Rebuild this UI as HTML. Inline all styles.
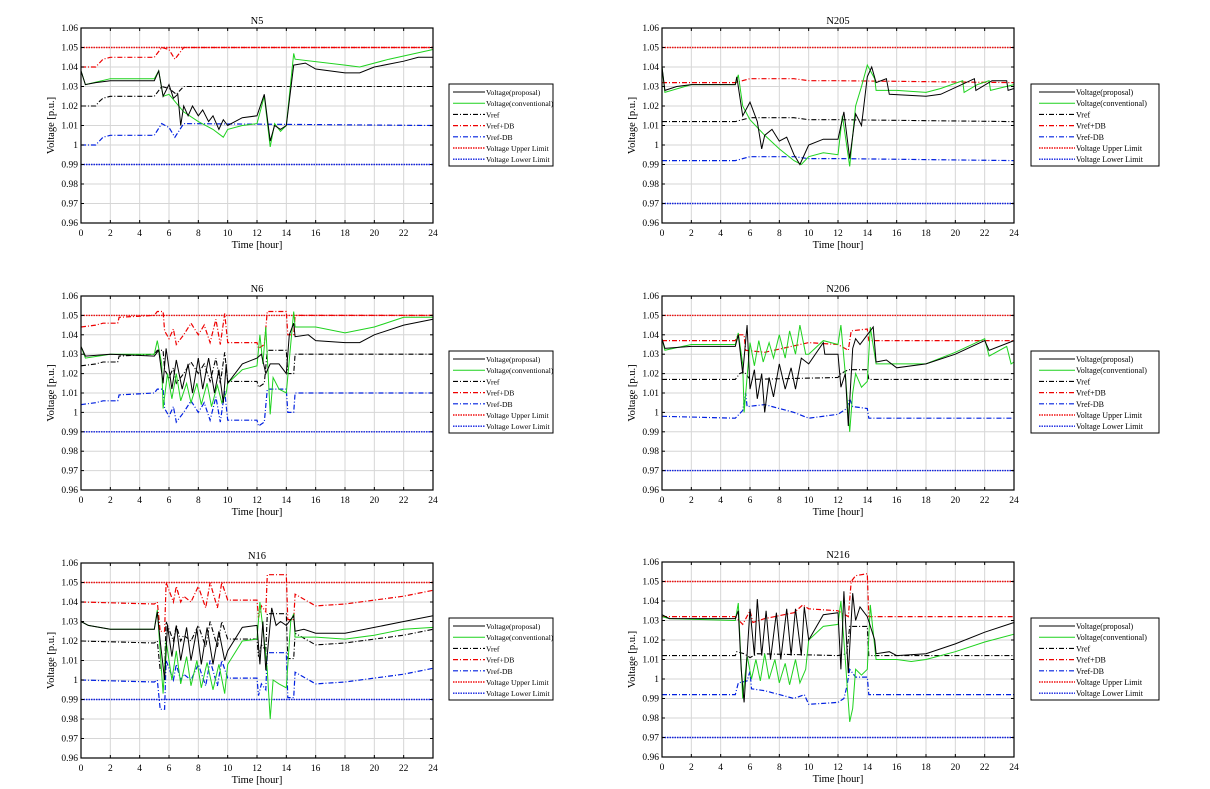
<!DOCTYPE html>
<html><head><meta charset="utf-8"><style>
html,body{margin:0;padding:0;background:#fff;}
svg{display:block;font-family:"Liberation Serif",serif;}
</style></head><body>
<svg id="s" width="1210" height="789" viewBox="0 0 1210 789" xmlns="http://www.w3.org/2000/svg"></svg>
<script>
const S=document.getElementById('s');let h='';
function add(x){h+=x;}
const charts=[
{t:'N5',x0:81,x1:433,y0:28,y1:223,lx:449,lw:104,ly:84,lov:0.99,
 vref:[[0,1.02],[1,1.02],[1.2,1.022],[1.5,1.024],[2,1.025],[5,1.025],[5.2,1.027],[5.5,1.03],[6,1.029],[6.5,1.026],[7,1.03],[24,1.03]],
 vp:[[0,1.04],[1,1.04],[1.5,1.044],[2,1.045],[5,1.045],[5.5,1.05],[6,1.049],[6.4,1.044],[7,1.05],[24,1.05]],
 vm:[[0,1.0],[1,1.0],[1.5,1.004],[2,1.005],[5,1.005],[5.5,1.011],[6,1.009],[6.4,1.004],[7,1.011],[24,1.01]],
 p:[[0,1.038],[0.3,1.031],[1,1.032],[2,1.033],[5,1.033],[5.3,1.038],[5.6,1.025],[6,1.031],[6.3,1.024],[6.6,1.026],[6.8,1.01],[7,1.02],[7.3,1.015],[7.6,1.02],[8,1.015],[8.3,1.018],[8.7,1.012],[9,1.015],[9.4,1.008],[9.7,1.013],[10,1.01],[11,1.014],[12,1.015],[12.5,1.026],[12.9,1.002],[13.2,1.01],[13.6,1.008],[14,1.01],[14.5,1.041],[15.3,1.042],[16,1.039],[18,1.037],[19,1.037],[20,1.04],[22,1.043],[23,1.045],[24,1.045]],
 c:[[0,1.038],[0.3,1.031],[2,1.034],[5,1.034],[5.3,1.038],[5.6,1.025],[6,1.026],[7,1.017],[8,1.012],[9,1.008],[9.7,1.004],[10,1.008],[11,1.01],[12,1.011],[12.5,1.025],[12.9,0.999],[13.2,1.011],[13.6,1.007],[14,1.01],[14.5,1.047],[14.6,1.044],[18,1.041],[19,1.04],[21,1.044],[24,1.049]]},
{t:'N205',x0:662,x1:1014,y0:28,y1:223,lx:1031,lw:128,ly:84,lov:0.97,
 vref:[[0,1.012],[5,1.012],[6,1.014],[9,1.014],[10,1.013],[12,1.013],[24,1.012]],
 vp:[[0,1.032],[5,1.032],[6,1.034],[9,1.034],[10,1.033],[12,1.033],[24,1.032]],
 vm:[[0,0.992],[5,0.992],[6,0.994],[9,0.994],[10,0.993],[12,0.993],[24,0.992]],
 p:[[0,1.04],[0.2,1.028],[1,1.03],[2,1.031],[5,1.031],[5.1,1.035],[5.5,1.015],[6,1.022],[6.5,1.012],[6.8,0.998],[7,1.005],[7.5,1.008],[8,1.002],[8.5,1.004],[9,0.995],[9.4,0.99],[10,1],[11,1.003],[12,1.003],[12.4,1.017],[12.8,0.993],[13.2,1.016],[13.6,1.01],[14,1.035],[14.3,1.04],[14.6,1.032],[15.3,1.034],[15.5,1.026],[18,1.025],[19,1.026],[21.3,1.034],[21.4,1.028],[22.5,1.033],[23.5,1.033],[23.6,1.028],[24,1.029]],
 c:[[0,1.04],[0.2,1.027],[2,1.031],[5,1.031],[5.2,1.036],[5.5,1.02],[6,1.013],[7,1.005],[8,0.998],[9,0.992],[9.5,0.99],[10,0.994],[11,0.996],[12,0.995],[12.3,1.015],[12.8,0.989],[13.2,1.02],[13.6,1.03],[14,1.041],[14.5,1.034],[14.6,1.028],[16,1.028],[18,1.027],[19,1.029],[20.5,1.033],[20.6,1.027],[21.5,1.031],[22.3,1.033],[22.4,1.028],[24,1.031]]},
{t:'N6',x0:81,x1:433,y0:296,y1:490,lx:449,lw:104,ly:351,lov:0.99,d:0.02,
 vref:[[0,1.024],[1,1.025],[1.5,1.026],[2.5,1.026],[2.6,1.029],[5,1.03],[5.2,1.032],[5.6,1.032],[5.7,1.022],[6,1.018],[6.3,1.023],[6.5,1.015],[7,1.02],[7.5,1.026],[8,1.02],[8.4,1.025],[8.8,1.016],[9.2,1.028],[9.5,1.015],[9.8,1.031],[10,1.016],[12,1.016],[12.1,1.013],[12.5,1.015],[12.7,1.032],[14,1.032],[14.1,1.02],[14.5,1.02],[14.6,1.03],[24,1.03]],
 p:[[0,1.034],[0.3,1.029],[2,1.03],[5,1.029],[5.3,1.032],[5.6,1.015],[5.8,1.033],[6.2,1.012],[6.5,1.027],[6.9,1.012],[7.3,1.025],[7.6,1.01],[8,1.028],[8.3,1.012],[8.7,1.028],[9.1,1.01],[9.4,1.022],[9.7,1.005],[9.9,1.025],[10,1.015],[11,1.025],[12,1.028],[12.3,1.03],[12.6,1.02],[12.9,1.025],[13.5,1.025],[14,1.02],[14.2,1.04],[14.5,1.046],[14.6,1.039],[15.5,1.04],[16,1.037],[18,1.036],[19,1.036],[20,1.04],[22,1.045],[24,1.048]],
 c:[[0,1.034],[0.3,1.028],[2,1.03],[5,1.03],[5.2,1.037],[5.5,1.025],[5.6,1.002],[5.9,1.02],[6.2,1.007],[6.5,1.02],[6.8,1.006],[7.2,1.015],[7.5,1.005],[7.9,1.015],[8.2,1.004],[8.6,1.015],[8.9,1.003],[9.3,1.014],[9.6,1.005],[9.9,1.01],[10,1.015],[11,1.022],[12,1.024],[12.2,1.04],[12.4,1.025],[12.6,1.044],[12.9,0.999],[13.1,1.018],[13.5,1.012],[14,1.01],[14.5,1.052],[14.6,1.044],[16,1.044],[18,1.041],[20,1.044],[22,1.049],[24,1.049]]},
{t:'N206',x0:662,x1:1014,y0:296,y1:490,lx:1031,lw:128,ly:351,lov:0.97,
 vref:[[0,1.017],[5,1.017],[5.3,1.02],[5.6,1.021],[6,1.017],[12,1.018],[12.2,1.02],[12.7,1.022],[14,1.022],[14.1,1.017],[24,1.017]],
 vp:[[0,1.037],[5,1.037],[5.2,1.04],[5.6,1.04],[5.7,1.032],[7,1.031],[10,1.036],[12,1.035],[12.7,1.032],[12.9,1.042],[14,1.043],[14.1,1.037],[24,1.037]],
 vm:[[0,0.998],[5,0.997],[5.5,1.001],[5.7,1.01],[5.8,1.003],[7,1.004],[8,1.002],[9,1.0],[10,0.997],[12,0.999],[12.6,1.002],[12.8,1.007],[13,1.003],[14,1.002],[14.1,0.997],[24,0.997]],
 p:[[0,1.038],[0.2,1.033],[2,1.034],[5,1.034],[5.2,1.04],[5.5,1.02],[5.8,1.045],[6,1.012],[6.3,1.022],[6.5,1.007],[6.8,1.02],[7,1.0],[7.3,1.018],[7.6,1.008],[8,1.025],[8.4,1.012],[8.8,1.023],[9.1,1.012],[9.5,1.028],[10,1.025],[11,1.036],[11.1,1.03],[12,1.03],[12.2,1.013],[12.5,1.02],[12.7,0.993],[13,1.033],[13.2,1.038],[13.5,1.035],[14,1.04],[14.4,1.044],[14.6,1.026],[15.3,1.027],[16,1.023],[18,1.025],[20,1.03],[22,1.037],[22.3,1.032],[24,1.037]],
 c:[[0,1.038],[0.2,1.032],[2,1.035],[5,1.035],[5.2,1.041],[5.5,1.025],[5.6,1.0],[6,1.036],[6.3,1.024],[6.6,1.037],[6.9,1.026],[7.3,1.036],[7.6,1.028],[8,1.04],[8.4,1.028],[8.7,1.042],[9.1,1.03],[9.4,1.045],[9.8,1.03],[10,1.03],[11,1.037],[12,1.035],[12.2,1.045],[12.5,1.02],[12.8,0.99],[13,1.01],[13.2,1.02],[13.6,1.013],[14,1.016],[14.2,1.044],[14.6,1.025],[16,1.025],[18,1.025],[20,1.031],[22,1.038],[22.3,1.029],[23.5,1.034],[23.8,1.025],[24,1.026]]},
{t:'N16',x0:81,x1:433,y0:563,y1:758,lx:449,lw:104,ly:618,lov:0.99,d:0.02,
 vref:[[0,1.02],[5,1.019],[5.2,1.02],[5.4,1.005],[5.7,1.005],[5.8,1.03],[6.3,1.02],[6.5,1.028],[6.8,1.02],[7,1.023],[7.5,1.02],[8,1.028],[8.5,1.017],[8.8,1.03],[9.3,1.017],[9.6,1.03],[10,1.021],[12,1.021],[12.1,1.012],[12.3,1.018],[12.6,1.015],[12.7,1.034],[14,1.034],[14.1,1.011],[14.5,1.011],[14.6,1.024],[16,1.018],[18,1.019],[20,1.021],[22,1.023],[24,1.026]],
 p:[[0,1.03],[0.5,1.028],[2,1.026],[5,1.026],[5.2,1.035],[5.4,1.02],[5.7,1.0],[5.9,1.028],[6.2,1.012],[6.5,1.028],[6.8,1.01],[7.2,1.027],[7.5,1.01],[7.9,1.026],[8.2,1.008],[8.6,1.027],[9,1.008],[9.4,1.025],[9.8,1.01],[10,1.015],[11,1.027],[12,1.028],[12.2,1.008],[12.4,1.03],[12.6,1.005],[13,1.037],[13.3,1.028],[13.6,1.03],[14,1.028],[14.5,1.033],[14.6,1.025],[15.2,1.026],[16,1.024],[18,1.024],[20,1.027],[22,1.03],[24,1.033]],
 c:[[0,1.03],[0.5,1.028],[2,1.026],[5,1.026],[5.2,1.036],[5.6,0.993],[5.8,1.02],[6.2,1.0],[6.5,1.015],[6.8,0.998],[7.2,1.012],[7.5,0.997],[7.9,1.01],[8.2,0.996],[8.6,1.009],[9,0.995],[9.4,1.008],[9.8,0.993],[10,1.008],[11,1.02],[12,1.021],[12.2,1.04],[12.5,1.02],[12.7,1.005],[12.9,0.98],[13.1,1.0],[13.5,0.998],[14,0.996],[14.3,1.03],[14.5,1.034],[14.6,1.022],[16,1.022],[18,1.021],[20,1.023],[22,1.026],[24,1.027]]},
{t:'N216',x0:662,x1:1014,y0:562,y1:757,lx:1031,lw:128,ly:618,lov:0.97,
 vref:[[0,1.012],[5,1.012],[5.1,1.014],[5.6,1.013],[6,1.011],[6.5,1.013],[12,1.012],[12.6,1.013],[12.8,1.027],[14,1.027],[14.1,1.012],[24,1.012]],
 vp:[[0,1.032],[5,1.032],[5.5,1.028],[6,1.035],[6.2,1.029],[7,1.031],[9,1.034],[9.6,1.038],[10,1.036],[12,1.035],[12.7,1.032],[12.9,1.05],[13.2,1.053],[14,1.054],[14.1,1.032],[24,1.032]],
 vm:[[0,0.992],[5,0.992],[5.2,0.998],[5.8,0.999],[6,1.004],[6.1,0.995],[7,0.994],[8,0.992],[9,0.99],[9.7,0.992],[10,0.987],[12,0.988],[12.4,0.99],[12.6,0.996],[12.8,1.005],[13.2,1.001],[14,1.001],[14.1,0.992],[24,0.992]],
 p:[[0,1.033],[0.5,1.031],[5,1.031],[5.2,1.035],[5.4,1.005],[5.6,0.988],[6,1.036],[6.3,1.012],[6.5,1.041],[6.8,1.012],[7.1,1.035],[7.4,1.01],[7.8,1.034],[8.1,1.01],[8.5,1.036],[8.8,1.012],[9.1,1.036],[9.5,1.012],[9.7,1.037],[10,1.02],[11,1.033],[12,1.034],[12.2,1.005],[12.4,1.045],[12.7,1.003],[13,1.044],[13.2,1.03],[13.5,1.037],[14,1.032],[14.5,1.02],[14.6,1.013],[15.5,1.014],[16,1.012],[18,1.013],[20,1.018],[22,1.024],[24,1.029]],
 c:[[0,1.032],[0.5,1.031],[5,1.03],[5.2,1.039],[5.5,0.99],[5.8,1.012],[6.1,1.0],[6.4,1.01],[6.7,0.999],[7,1.013],[7.3,1.0],[7.7,1.01],[8,0.998],[8.4,1.008],[8.7,0.997],[9.1,1.01],[9.4,0.998],[9.8,1.005],[10,1.02],[11,1.027],[12,1.028],[12.2,1.04],[12.5,1.01],[12.8,0.978],[13,0.985],[13.2,1.005],[13.6,1.002],[14,1.005],[14.2,1.038],[14.6,1.01],[16,1.01],[17,1.009],[18,1.01],[20,1.014],[22,1.019],[24,1.023]]}
];
const st={
 p:'stroke="#000" stroke-width="1"',
 c:'stroke="#1fd21f" stroke-width="1"',
 vref:'stroke="#000" stroke-width="1.1" stroke-dasharray="5,2,1,2"',
 vp:'stroke="#e00" stroke-width="1.2" stroke-dasharray="5,2,1,2"',
 vm:'stroke="#0020e0" stroke-width="1.2" stroke-dasharray="5,2,1,2"',
 up:'stroke="#f01010" stroke-width="1.4" stroke-dasharray="1.5,1"',
 lo:'stroke="#1020e0" stroke-width="1.4" stroke-dasharray="1.5,1"'
};
const names=[['p','Voltage(proposal)'],['c','Voltage(conventional)'],['vref','Vref'],['vp','Vref+DB'],['vm','Vref-DB'],['up','Voltage Upper Limit'],['lo','Voltage Lower Limit']];
charts.forEach(c=>{
 const X=t=>c.x0+(c.x1-c.x0)*t/24, Y=v=>c.y1-(c.y1-c.y0)*(v-0.96)/0.1;
 if(c.d){c.vp=c.vref.map(a=>[a[0],a[1]+c.d]);c.vm=c.vref.map(a=>[a[0],a[1]-c.d]);}
 c.up=[[0,1.05],[24,1.05]];c.lo=[[0,c.lov],[24,c.lov]];
 add(`<rect x="${c.x0}" y="${c.y0}" width="${c.x1-c.x0}" height="${c.y1-c.y0}" fill="#fff"/>`);
 for(let i=1;i<12;i++){const x=X(i*2);add(`<line x1="${x}" y1="${c.y0}" x2="${x}" y2="${c.y1}" stroke="#d6d6d6" stroke-width="1"/>`);}
 for(let i=1;i<10;i++){const y=Y(0.96+i*0.01);add(`<line x1="${c.x0}" y1="${y}" x2="${c.x1}" y2="${y}" stroke="#d6d6d6" stroke-width="1"/>`);}
 ['up','lo','vm','vp','vref','c','p'].forEach(k=>{
  add(`<polyline fill="none" ${st[k]} points="${c[k].map(a=>X(a[0]).toFixed(1)+','+Y(a[1]).toFixed(1)).join(' ')}"/>`);
 });
 add(`<rect x="${c.x0}" y="${c.y0}" width="${c.x1-c.x0}" height="${c.y1-c.y0}" fill="none" stroke="#000" stroke-width="1.2"/>`);
 for(let i=0;i<=12;i++){const x=X(i*2);add(`<line x1="${x}" y1="${c.y1}" x2="${x}" y2="${c.y1-3}" stroke="#000"/><line x1="${x}" y1="${c.y0}" x2="${x}" y2="${c.y0+3}" stroke="#000"/><text x="${x}" y="${c.y1+13}" font-size="9.5" text-anchor="middle">${i*2}</text>`);}
 for(let i=0;i<=10;i++){const v=0.96+i*0.01,y=Y(v);let s=(Math.round(v*100)/100).toString();add(`<line x1="${c.x0}" y1="${y}" x2="${c.x0+3}" y2="${y}" stroke="#000"/><line x1="${c.x1}" y1="${y}" x2="${c.x1-3}" y2="${y}" stroke="#000"/><text x="${c.x0-3}" y="${y+3}" font-size="9.5" text-anchor="end">${s}</text>`);}
 const cx=(c.x0+c.x1)/2;
 add(`<text x="${cx}" y="${c.y0-4}" font-size="10.5" text-anchor="middle">${c.t}</text>`);
 add(`<text x="${cx}" y="${c.y1+25}" font-size="10.5" text-anchor="middle">Time [hour]</text>`);
 const my=(c.y0+c.y1)/2;
 add(`<text x="${c.x0-27}" y="${my}" font-size="10.5" text-anchor="middle" transform="rotate(-90 ${c.x0-27} ${my})">Voltage [p.u.]</text>`);
 const wide=c.lw>110;
 add(`<rect x="${c.lx}" y="${c.ly}" width="${c.lw}" height="82" fill="#fff" stroke="#000" stroke-width="1"/>`);
 names.forEach((n,i)=>{const y=c.ly+8+i*11.2;const l1=c.lx+(wide?8:4),l2=c.lx+(wide?44:36);
  add(`<line x1="${l1}" y1="${y}" x2="${l2}" y2="${y}" ${st[n[0]]}/><text x="${l2+1}" y="${y+3}" font-size="${wide?8:7.6}">${n[1]}</text>`);});
});
S.innerHTML=h;
</script>
</body></html>
